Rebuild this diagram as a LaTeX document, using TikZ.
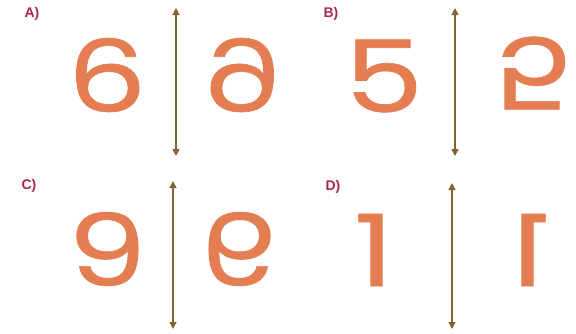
\documentclass[tikz,border=0pt]{standalone}
\usepackage{fontspec}
\setmainfont{Poppins}
\newfontfamily\digitfont[FakeBold=0.6]{Poppins}
\newfontfamily\tagfont{Liberation Sans}
\usetikzlibrary{arrows.meta}
\definecolor{digitorange}{RGB}{228,126,82}
\definecolor{arrowbrown}{RGB}{128,100,52}
\definecolor{labelred}{RGB}{168,40,70}
\newcommand{\wide}[1]{\scalebox{1.25}[1]{#1}}
\begin{document}
\begin{tikzpicture}[x=1pt, y=-1pt,
  digit/.style={text=digitorange, font=\digitfont\fontsize{100}{100}\selectfont, inner sep=0pt},
  mirrorline/.style={arrowbrown, line width=1.3pt,
    {Triangle[length=7pt,width=7pt]}-{Triangle[length=7pt,width=7pt]}},
  tag/.style={text=labelred, font=\tagfont\bfseries\fontsize{14}{14}\selectfont, inner sep=0pt}]

  \useasboundingbox (0,0) rectangle (576,333);

  % A: six and its mirror
  \node[tag] (tagA) at (32,14) {A)};
  \coordinate (topA) at (176,8);
  \coordinate (botA) at (176,156);
  \draw[mirrorline] (topA) -- (botA);
  \node[digit] (sixA) at (107,75) {\wide{6}};
  \node[digit] (sixAm) at (243,75) {\reflectbox{\wide{6}}};

  % B: five and its flip
  \node[tag] (tagB) at (331,14) {B)};
  \coordinate (topB) at (455,8);
  \coordinate (botB) at (455,156);
  \draw[mirrorline] (topB) -- (botB);
  \node[digit] (fiveB) at (384,76) {\wide{5}};
  \node[digit] (fiveBm) at (533,73) {\scalebox{1}[-1]{\wide{5}}};

  % C: nine and its mirror
  \node[tag] (tagC) at (29,186) {C)};
  \coordinate (topC) at (173,181);
  \coordinate (botC) at (173,329);
  \draw[mirrorline] (topC) -- (botC);
  \node[digit] (nineC) at (107,249) {\wide{9}};
  \node[digit] (nineCm) at (240,249) {\reflectbox{\wide{9}}};

  % D: one and its mirror
  \node[tag] (tagD) at (333,187) {D)};
  \coordinate (topD) at (452,183);
  \coordinate (botD) at (452,329);
  \draw[mirrorline] (topD) -- (botD);
  \node[digit] (oneD) at (374,250) {\wide{1}};
  \node[digit] (oneDm) at (530,250) {\reflectbox{\wide{1}}};

\end{tikzpicture}
\end{document}
